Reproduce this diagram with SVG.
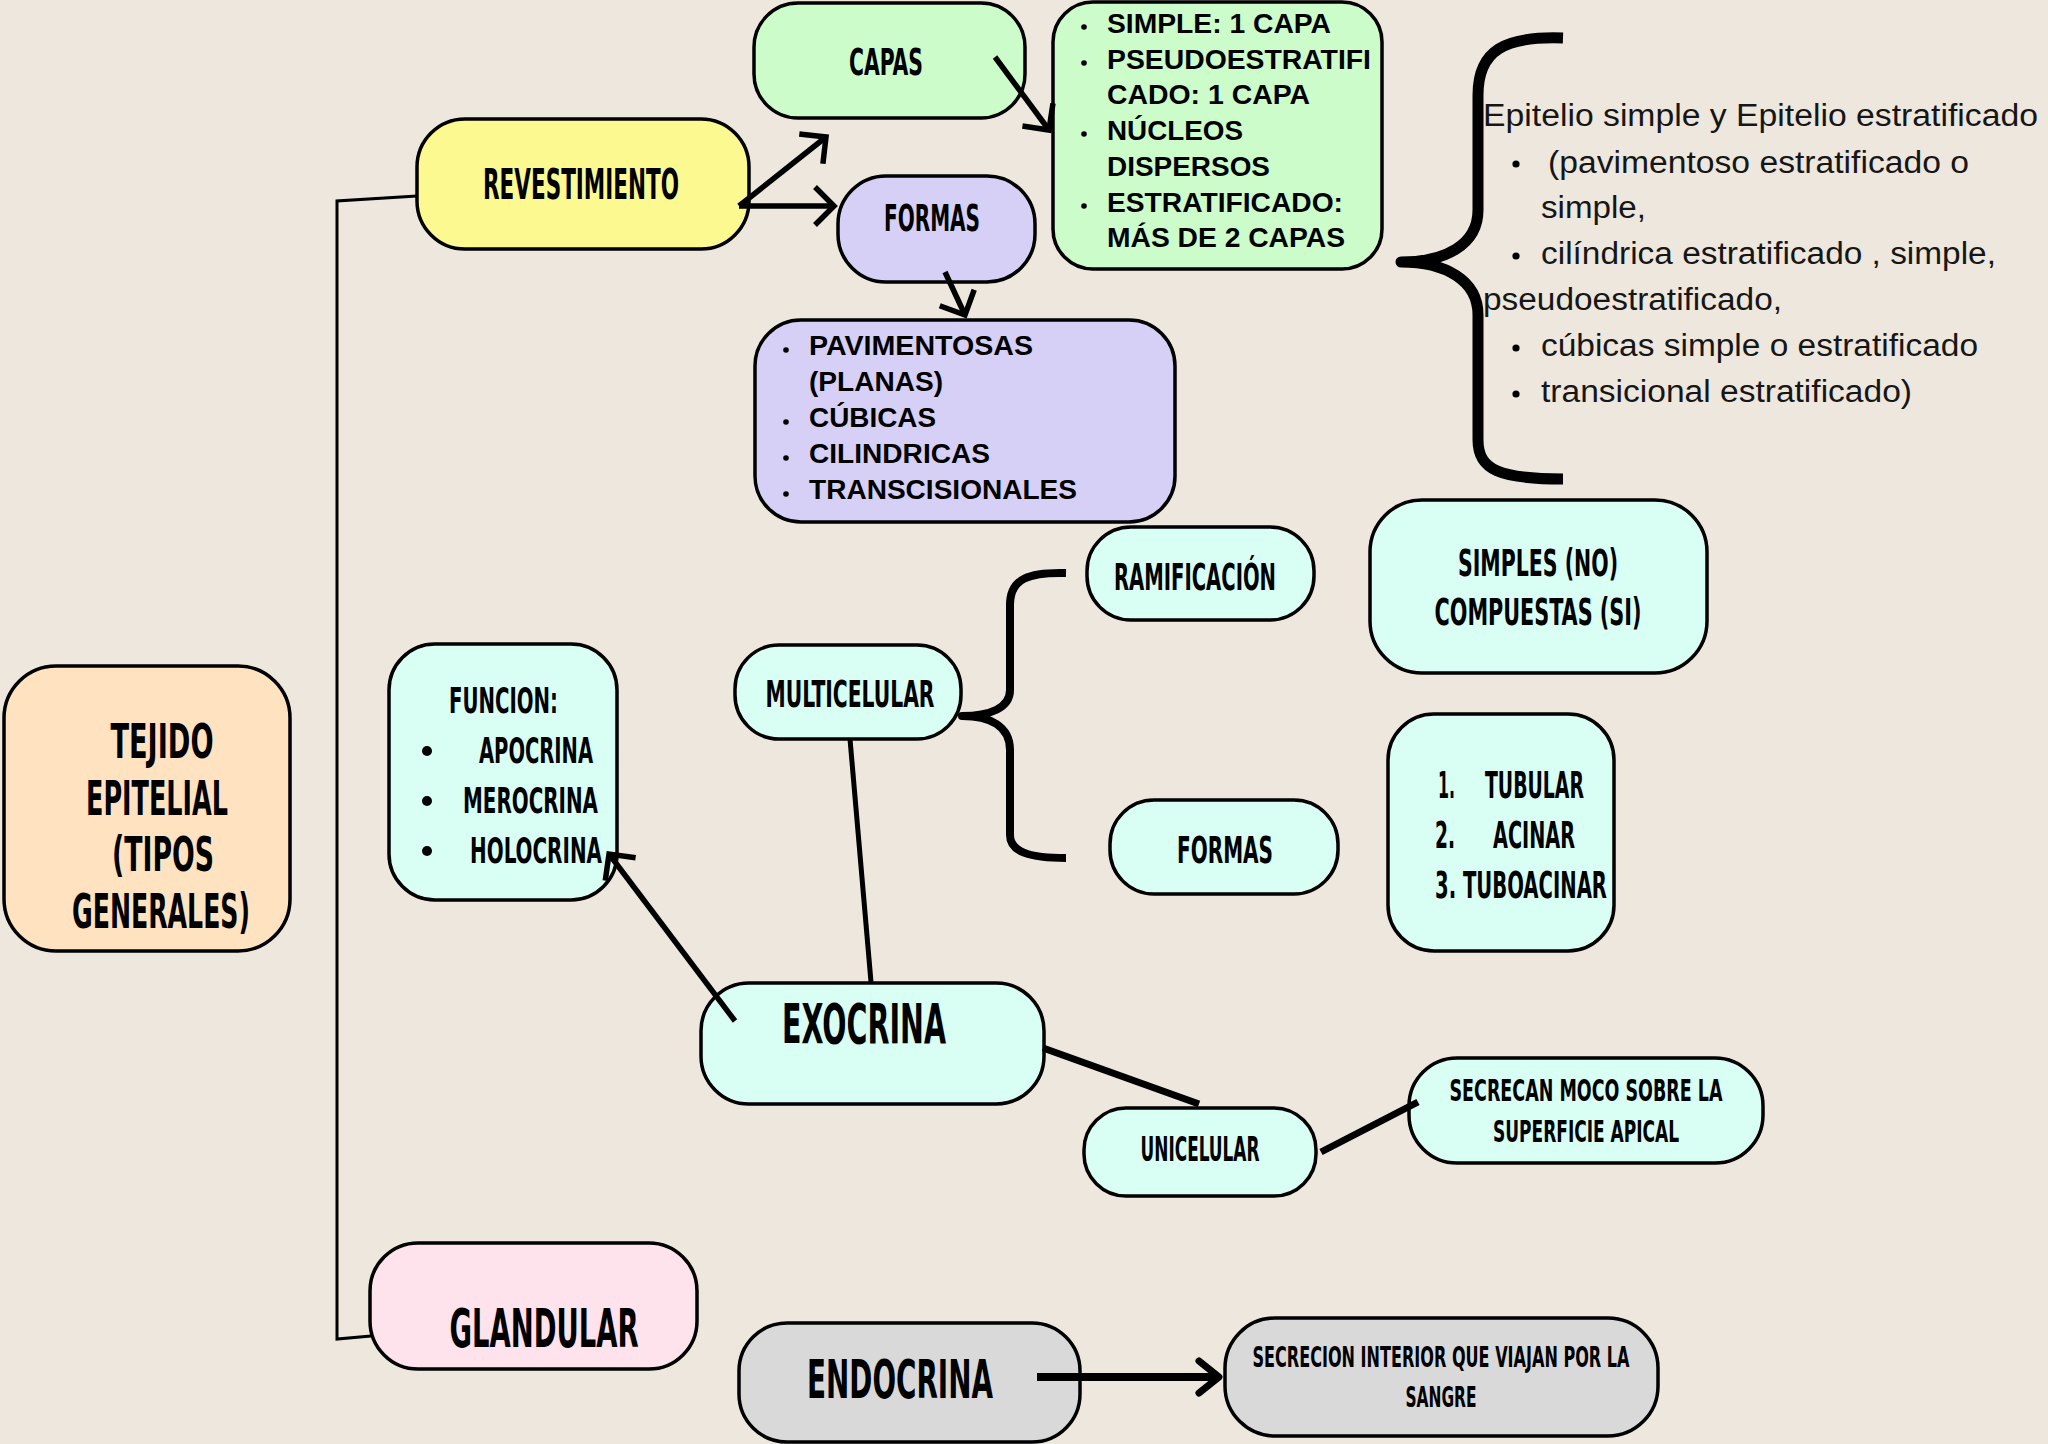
<svg xmlns="http://www.w3.org/2000/svg" width="2048" height="1444" viewBox="0 0 2048 1444">
<defs>
<style>
.box{stroke:#000;stroke-width:3.5}
.peach{fill:#FFE3C1}
.yellow{fill:#FCF990}
.green{fill:#CDFCCB}
.lav{fill:#D7D0F6}
.mint{fill:#D9FEF3}
.pink{fill:#FFE3EC}
.gray{fill:#D9D9D9}
.h{font-family:"Liberation Sans Narrow","DejaVu Sans Condensed","Liberation Sans",sans-serif;font-weight:700;fill:#000;text-anchor:middle}
.hs{font-family:"Liberation Sans Narrow","DejaVu Sans Condensed","Liberation Sans",sans-serif;font-weight:700;fill:#000;text-anchor:start}
.b{font-family:"Liberation Sans",Arial,sans-serif;font-weight:700;font-size:27px;fill:#000}
.r{font-family:"Liberation Sans",Arial,sans-serif;font-size:31px;fill:#161616}
.ln{stroke:#000;fill:none;stroke-linecap:butt}
.dot{fill:#000}
</style>
<marker id="chev" markerUnits="userSpaceOnUse" orient="auto" overflow="visible" markerWidth="10" markerHeight="10" refX="0" refY="0"><path d="M-19,-19 L0,0 L-19,19" fill="none" stroke="#000" stroke-width="5.5" stroke-linejoin="miter"/></marker>
<marker id="chev2" markerUnits="userSpaceOnUse" orient="auto" overflow="visible" markerWidth="10" markerHeight="10" refX="0" refY="0"><path d="M-20,-16 L0,0 L-20,16" fill="none" stroke="#000" stroke-width="7" stroke-linejoin="round" stroke-linecap="round"/></marker>
</defs>
<rect x="0" y="0" width="2048" height="1444" fill="#EDE7DE"/>

<g id="n-tejido">
<rect class="box peach" x="4" y="666" width="286" height="285" rx="52"/>
<text class="h" x="162" y="758" font-size="48" textLength="103" lengthAdjust="spacingAndGlyphs">TEJIDO</text>
<text class="h" x="157" y="815" font-size="48" textLength="142" lengthAdjust="spacingAndGlyphs">EPITELIAL</text>
<text class="h" x="163" y="871" font-size="48" textLength="102" lengthAdjust="spacingAndGlyphs">(TIPOS</text>
<text class="h" x="161" y="928" font-size="48" textLength="178" lengthAdjust="spacingAndGlyphs">GENERALES)</text>
</g>

<g id="n-revestimiento">
<rect class="box yellow" x="417" y="119" width="332" height="130" rx="48"/>
<text class="h" x="581" y="199" font-size="42" textLength="196" lengthAdjust="spacingAndGlyphs">REVESTIMIENTO</text>
</g>

<g id="n-capas">
<rect class="box green" x="754" y="3" width="271" height="115" rx="44"/>
<text class="h" x="886" y="75" font-size="37" textLength="74" lengthAdjust="spacingAndGlyphs">CAPAS</text>
</g>

<g id="n-capas-list">
<rect class="box green" x="1053" y="2" width="329" height="267" rx="40"/>
<circle class="dot" cx="1084" cy="27" r="2.8"/>
<circle class="dot" cx="1084" cy="63" r="2.8"/>
<circle class="dot" cx="1084" cy="134" r="2.8"/>
<circle class="dot" cx="1084" cy="206" r="2.8"/>
<text class="b" x="1107" y="33" textLength="224" lengthAdjust="spacingAndGlyphs">SIMPLE: 1 CAPA</text>
<text class="b" x="1107" y="69" textLength="264" lengthAdjust="spacingAndGlyphs">PSEUDOESTRATIFI</text>
<text class="b" x="1107" y="104" textLength="203" lengthAdjust="spacingAndGlyphs">CADO: 1 CAPA</text>
<text class="b" x="1107" y="140" textLength="136" lengthAdjust="spacingAndGlyphs">NÚCLEOS</text>
<text class="b" x="1107" y="176" textLength="163" lengthAdjust="spacingAndGlyphs">DISPERSOS</text>
<text class="b" x="1107" y="212" textLength="236" lengthAdjust="spacingAndGlyphs">ESTRATIFICADO:</text>
<text class="b" x="1107" y="247" textLength="238" lengthAdjust="spacingAndGlyphs">MÁS DE 2 CAPAS</text>
</g>

<g id="n-formas1">
<rect class="box lav" x="838" y="176" width="197" height="106" rx="48"/>
<text class="h" x="932" y="231" font-size="38" textLength="96" lengthAdjust="spacingAndGlyphs">FORMAS</text>
</g>

<g id="n-formas-list">
<rect class="box lav" x="755" y="320" width="420" height="202" rx="46"/>
<circle class="dot" cx="786" cy="350" r="2.8"/>
<circle class="dot" cx="786" cy="422" r="2.8"/>
<circle class="dot" cx="786" cy="458" r="2.8"/>
<circle class="dot" cx="786" cy="494" r="2.8"/>
<text class="b" x="809" y="355" textLength="224" lengthAdjust="spacingAndGlyphs">PAVIMENTOSAS</text>
<text class="b" x="809" y="391" textLength="134" lengthAdjust="spacingAndGlyphs">(PLANAS)</text>
<text class="b" x="809" y="427" textLength="127" lengthAdjust="spacingAndGlyphs">CÚBICAS</text>
<text class="b" x="809" y="463" textLength="181" lengthAdjust="spacingAndGlyphs">CILINDRICAS</text>
<text class="b" x="809" y="499" textLength="268" lengthAdjust="spacingAndGlyphs">TRANSCISIONALES</text>
</g>

<g id="n-epitelio-text">
<text class="r" x="1483" y="126" textLength="555" lengthAdjust="spacingAndGlyphs">Epitelio simple y Epitelio estratificado</text>
<circle class="dot" cx="1516" cy="164" r="3.6"/>
<text class="r" x="1548" y="173" textLength="421" lengthAdjust="spacingAndGlyphs">(pavimentoso estratificado o</text>
<text class="r" x="1541" y="218" textLength="105" lengthAdjust="spacingAndGlyphs">simple,</text>
<circle class="dot" cx="1516" cy="256" r="3.6"/>
<text class="r" x="1541" y="264" textLength="455" lengthAdjust="spacingAndGlyphs">cilíndrica estratificado , simple,</text>
<text class="r" x="1483" y="310" textLength="299" lengthAdjust="spacingAndGlyphs">pseudoestratificado,</text>
<circle class="dot" cx="1516" cy="348" r="3.6"/>
<text class="r" x="1541" y="356" textLength="437" lengthAdjust="spacingAndGlyphs">cúbicas simple o estratificado</text>
<circle class="dot" cx="1516" cy="394" r="3.6"/>
<text class="r" x="1541" y="402" textLength="371" lengthAdjust="spacingAndGlyphs">transicional estratificado)</text>
</g>

<g id="n-ramificacion">
<rect class="box mint" x="1087" y="527" width="227" height="93" rx="44"/>
<text class="h" x="1195" y="590" font-size="37" textLength="162" lengthAdjust="spacingAndGlyphs">RAMIFICACIÓN</text>
</g>

<g id="n-simples">
<rect class="box mint" x="1370" y="500" width="337" height="173" rx="52"/>
<text class="h" x="1538" y="576" font-size="37" textLength="160" lengthAdjust="spacingAndGlyphs">SIMPLES (NO)</text>
<text class="h" x="1538" y="625" font-size="37" textLength="207" lengthAdjust="spacingAndGlyphs">COMPUESTAS (SI)</text>
</g>

<g id="n-multicelular">
<rect class="box mint" x="735" y="645" width="226" height="94" rx="44"/>
<text class="h" x="850" y="707" font-size="37" textLength="169" lengthAdjust="spacingAndGlyphs">MULTICELULAR</text>
</g>

<g id="n-funcion">
<rect class="box mint" x="389" y="644" width="228" height="256" rx="46"/>
<text class="hs" x="449" y="713" font-size="36" textLength="109" lengthAdjust="spacingAndGlyphs">FUNCION:</text>
<circle class="dot" cx="427" cy="751" r="5"/>
<circle class="dot" cx="427" cy="801" r="5"/>
<circle class="dot" cx="427" cy="851" r="5"/>
<text class="hs" x="479" y="763" font-size="36" textLength="114" lengthAdjust="spacingAndGlyphs">APOCRINA</text>
<text class="hs" x="463" y="813" font-size="36" textLength="135" lengthAdjust="spacingAndGlyphs">MEROCRINA</text>
<text class="hs" x="470" y="863" font-size="36" textLength="132" lengthAdjust="spacingAndGlyphs">HOLOCRINA</text>
</g>

<g id="n-formas2">
<rect class="box mint" x="1110" y="800" width="228" height="94" rx="44"/>
<text class="h" x="1225" y="863" font-size="38" textLength="96" lengthAdjust="spacingAndGlyphs">FORMAS</text>
</g>

<g id="n-tubular">
<rect class="box mint" x="1388" y="714" width="226" height="237" rx="46"/>
<text class="hs" x="1438" y="798" font-size="37" textLength="17" lengthAdjust="spacingAndGlyphs">1.</text>
<text class="hs" x="1485" y="798" font-size="37" textLength="99" lengthAdjust="spacingAndGlyphs">TUBULAR</text>
<text class="hs" x="1435" y="848" font-size="37" textLength="20" lengthAdjust="spacingAndGlyphs">2.</text>
<text class="hs" x="1493" y="848" font-size="37" textLength="82" lengthAdjust="spacingAndGlyphs">ACINAR</text>
<text class="hs" x="1435" y="898" font-size="37" textLength="172" lengthAdjust="spacingAndGlyphs">3. TUBOACINAR</text>
</g>

<g id="n-exocrina">
<rect class="box mint" x="701" y="983" width="343" height="121" rx="48"/>
<text class="h" x="864" y="1043" font-size="55" textLength="164" lengthAdjust="spacingAndGlyphs">EXOCRINA</text>
</g>

<g id="n-unicelular">
<rect class="box mint" x="1084" y="1108" width="232" height="88" rx="42"/>
<text class="h" x="1200" y="1161" font-size="33" textLength="119" lengthAdjust="spacingAndGlyphs">UNICELULAR</text>
</g>

<g id="n-secrecan">
<rect class="box mint" x="1409" y="1058" width="354" height="105" rx="48"/>
<text class="h" x="1586" y="1101" font-size="31" textLength="273" lengthAdjust="spacingAndGlyphs">SECRECAN MOCO SOBRE LA</text>
<text class="h" x="1586" y="1142" font-size="31" textLength="186" lengthAdjust="spacingAndGlyphs">SUPERFICIE APICAL</text>
</g>

<g id="n-glandular">
<rect class="box pink" x="370" y="1243" width="327" height="126" rx="48"/>
<text class="h" x="544" y="1347" font-size="54" textLength="189" lengthAdjust="spacingAndGlyphs">GLANDULAR</text>
</g>

<g id="n-endocrina">
<rect class="box gray" x="739" y="1323" width="341" height="119" rx="48"/>
<text class="h" x="900" y="1398" font-size="53" textLength="186" lengthAdjust="spacingAndGlyphs">ENDOCRINA</text>
</g>

<g id="n-secrecion">
<rect class="box gray" x="1225" y="1318" width="433" height="118" rx="50"/>
<text class="h" x="1441" y="1367" font-size="28" textLength="377" lengthAdjust="spacingAndGlyphs">SECRECION INTERIOR QUE VIAJAN POR LA</text>
<text class="h" x="1441" y="1407" font-size="28" textLength="71" lengthAdjust="spacingAndGlyphs">SANGRE</text>
</g>

<g id="connectors">
<polyline class="ln" points="417,196 337,201 337,1339 371,1336" stroke-width="3"/>
<line class="ln" x1="739" y1="206" x2="826" y2="137" stroke-width="5.5" marker-end="url(#chev)"/>
<line class="ln" x1="739" y1="206" x2="834" y2="206" stroke-width="5.5" marker-end="url(#chev)"/>
<line class="ln" x1="995" y1="57" x2="1049" y2="130" stroke-width="5.5" marker-end="url(#chev)"/>
<line class="ln" x1="945" y1="272" x2="965" y2="315" stroke-width="5.5" marker-end="url(#chev)"/>
<line class="ln" x1="735" y1="1021" x2="609" y2="854" stroke-width="5.5" marker-end="url(#chev)"/>
<line class="ln" x1="1037" y1="1377" x2="1219" y2="1377" stroke-width="8" marker-end="url(#chev2)"/>
<line class="ln" x1="850" y1="739" x2="871" y2="982" stroke-width="5"/>
<line class="ln" x1="1043" y1="1048" x2="1199" y2="1104" stroke-width="7"/>
<line class="ln" x1="1321" y1="1152" x2="1418" y2="1102" stroke-width="7"/>
<path class="ln" d="M1563,38 C1505,36 1478,50 1478,95 L1478,210 C1478,245 1445,262 1401,262 C1445,262 1478,280 1478,315 L1478,440 C1478,470 1500,479 1563,479" stroke-width="11" stroke-linejoin="round"/>
<path class="ln" d="M1066,573 C1030,572 1010,578 1010,605 L1010,690 C1010,708 990,716 962,716 C990,716 1010,726 1010,750 L1010,835 C1010,852 1030,858 1066,858" stroke-width="8" stroke-linejoin="round"/>
</g>
</svg>
